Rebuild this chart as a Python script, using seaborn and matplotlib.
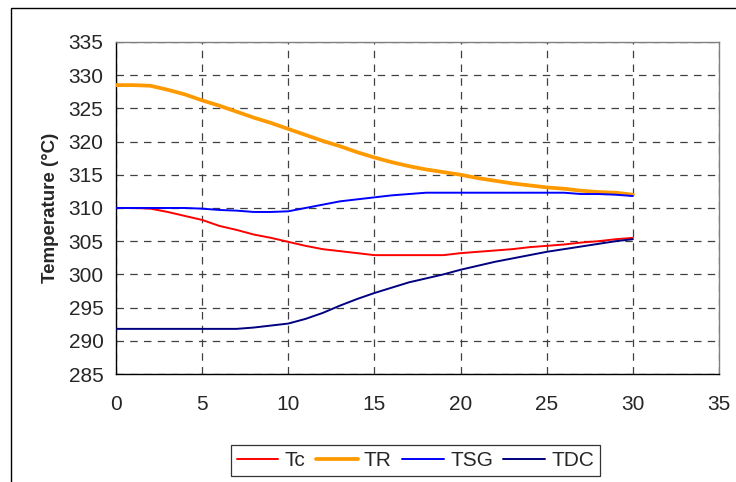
import numpy as np
import pandas as pd
import matplotlib
matplotlib.use("Agg")
import matplotlib.pyplot as plt
from matplotlib.patches import Rectangle
import seaborn as sns

# ---- data (time vs. temperature) ----
time = list(range(0, 31))

TR = [328.5, 328.5, 328.4, 327.8, 327.1, 326.2, 325.4, 324.5, 323.6, 322.8,
      321.9, 321.0, 320.1, 319.3, 318.4, 317.6, 316.9, 316.3, 315.8, 315.4,
      315.0, 314.5, 314.1, 313.7, 313.4, 313.1, 312.9, 312.6, 312.4, 312.3,
      312.0]
Tc = [310.0, 310.0, 309.9, 309.4, 308.8, 308.2, 307.3, 306.7, 306.0, 305.5,
      304.9, 304.3, 303.8, 303.5, 303.2, 302.9, 302.9, 302.9, 302.9, 302.9,
      303.2, 303.4, 303.6, 303.8, 304.1, 304.3, 304.5, 304.8, 305.0, 305.3,
      305.5]
TSG = [310.0, 310.0, 310.0, 310.0, 310.0, 309.9, 309.7, 309.6, 309.4, 309.4,
       309.5, 310.0, 310.5, 311.0, 311.3, 311.6, 311.9, 312.1, 312.3, 312.3,
       312.3, 312.3, 312.3, 312.3, 312.3, 312.3, 312.3, 312.1, 312.1, 312.0,
       311.8]
TDC = [291.8, 291.8, 291.8, 291.8, 291.8, 291.8, 291.8, 291.8, 292.0, 292.3,
       292.6, 293.3, 294.2, 295.3, 296.3, 297.2, 298.0, 298.8, 299.4, 300.0,
       300.7, 301.3, 301.9, 302.4, 302.9, 303.4, 303.8, 304.2, 304.6, 305.0,
       305.3]

series_names = ["Tc", "TR", "TSG", "TDC"]
series_vals = [Tc, TR, TSG, TDC]
colors = {"Tc": "#FF0000", "TR": "#FF9900", "TSG": "#0000FF", "TDC": "#000080"}
widths = {"Tc": 1.4, "TR": 2.7, "TSG": 1.4, "TDC": 1.4}

x_ticks = [0, 5, 10, 15, 20, 25, 30, 35]
y_ticks = [285, 290, 295, 300, 305, 310, 315, 320, 325, 330, 335]

df = pd.DataFrame({"time": time * 4,
                   "temp": sum(series_vals, []),
                   "series": sum([[n] * len(time) for n in series_names], [])})

# ---- style ----
sns.set_style("white")
plt.rcParams["font.family"] = ["Liberation Sans", "DejaVu Sans"]

fig = plt.figure(figsize=(7.36, 4.82), dpi=100)
ax = fig.add_axes([0.1576, 0.224, 0.8193, 0.689])

for name in series_names:
    sns.lineplot(data=df[df["series"] == name], x="time", y="temp", ax=ax,
                 color=colors[name], linewidth=widths[name], label=name,
                 legend=False, zorder=3)

ax.set_xlim(0, 35)
ax.set_ylim(285, 335)
ax.set_xticks(x_ticks)
ax.set_yticks(y_ticks)
ax.set_xlabel("")
ax.set_ylabel("Temperature (°C)", fontsize=13.5, fontweight="bold", labelpad=7)

ax.grid(True, color="#404040", linestyle=(0, (6, 5)), linewidth=0.9)
ax.tick_params(axis="both", direction="inout", length=8, width=0.9,
               color="black", labelsize=15)
ax.tick_params(axis="x", pad=11)
ax.tick_params(axis="y", pad=5)

for side in ["left", "bottom"]:
    ax.spines[side].set_color("black")
    ax.spines[side].set_linewidth(1.0)
for side in ["top", "right"]:
    ax.spines[side].set_color("#808080")
    ax.spines[side].set_linewidth(1.0)

handles, labels = ax.get_legend_handles_labels()
leg = fig.legend(handles, labels, loc="center", bbox_to_anchor=(0.5645, 0.0446),
                 ncol=4, frameon=True, fancybox=False, shadow=False,
                 fontsize=15, handlelength=2.0, columnspacing=0.5,
                 handletextpad=0.3, borderpad=0.3)
leg.get_frame().set_edgecolor("black")
leg.get_frame().set_linewidth(0.9)

# outer chart border (partly cut off, as in the original)
fig.patches.append(Rectangle((11 / 736, -0.2), 1.2, 1.2 - 8 / 482,
                             transform=fig.transFigure, fill=False,
                             edgecolor="black", linewidth=1.0))

fig.savefig("out.png", dpi=100)
